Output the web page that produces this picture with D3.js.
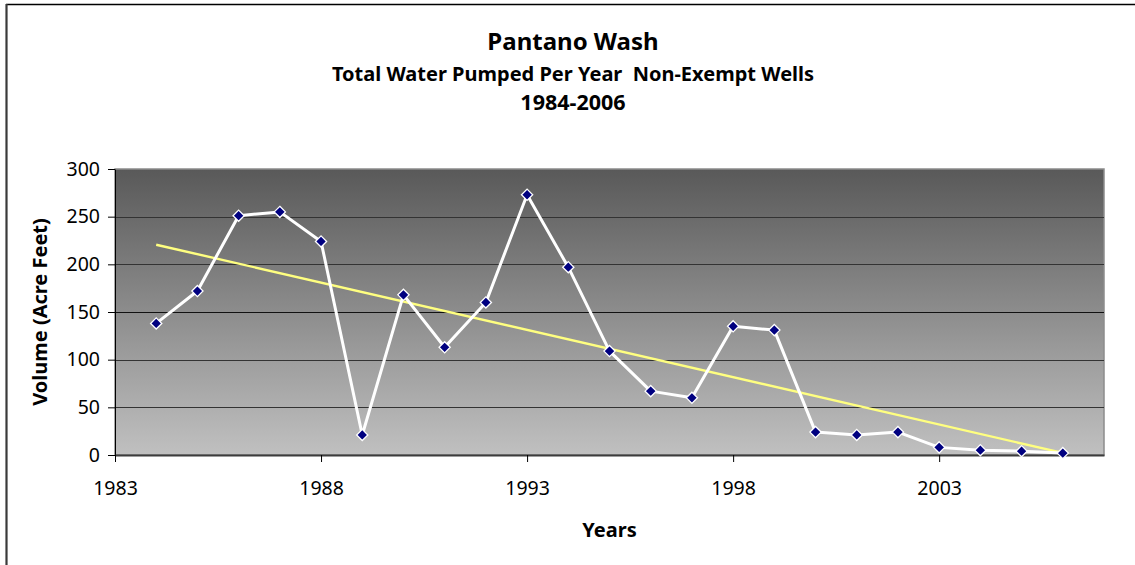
<!DOCTYPE html>
<html>
<head>
<meta charset="utf-8">
<script src="https://cdn.jsdelivr.net/npm/d3@7"></script>
<style>
  html, body { margin: 0; padding: 0; background: #ffffff; }
  svg { display: block; }
  text { font-family: "Noto Sans", "DejaVu Sans", sans-serif; fill: #000; white-space: pre; }
</style>
</head>
<body>
<svg id="chart" width="1135" height="565"></svg>
<script>
// Annual pumping totals, Pantano Wash non-exempt wells
const years = [1984, 1985, 1986, 1987, 1988, 1989, 1990, 1991, 1992, 1993, 1994, 1995,
               1996, 1997, 1998, 1999, 2000, 2001, 2002, 2003, 2004, 2005, 2006];
const volumes = [138, 172, 251, 255, 224, 21, 168, 113, 160, 273, 197, 109,
                 67, 60, 135, 131, 24, 21, 24, 8, 5, 4, 2];
const xTicks = [1983, 1988, 1993, 1998, 2003];
const yTicks = [0, 50, 100, 150, 200, 250, 300];
const titleLines = ["Pantano Wash", "Total Water Pumped Per Year  Non-Exempt Wells", "1984-2006"];
const xAxisTitle = "Years";
const yAxisTitle = "Volume (Acre Feet)";

const svg = d3.select("#chart");
const plot = { left: 115, right: 1104, top: 169, bottom: 455 };

const x = d3.scaleLinear().domain([1983, 2007]).range([plot.left, plot.right]);
const y = d3.scaleLinear().domain([0, 300]).range([plot.bottom, plot.top]);

// outer chart frame (top and left edges visible)
svg.append("line").attr("x1", 6).attr("x2", 1135).attr("y1", 4.5).attr("y2", 4.5)
  .attr("stroke", "#000").attr("stroke-width", 1.5);
svg.append("line").attr("x1", 6.5).attr("x2", 6.5).attr("y1", 4).attr("y2", 565)
  .attr("stroke", "#3a3a3a").attr("stroke-width", 2.2);

// plot background gradient
const defs = svg.append("defs");
const grad = defs.append("linearGradient").attr("id", "plotBg")
  .attr("x1", 0).attr("x2", 0).attr("y1", 0).attr("y2", 1);
grad.append("stop").attr("offset", "0%").attr("stop-color", "#595959");
grad.append("stop").attr("offset", "100%").attr("stop-color", "#c0c0c0");

svg.append("rect")
  .attr("x", plot.left).attr("y", plot.top)
  .attr("width", plot.right - plot.left).attr("height", plot.bottom - plot.top)
  .attr("fill", "url(#plotBg)")
  .attr("stroke", "#8c8c8c").attr("stroke-width", 1.5);

// horizontal gridlines
svg.append("g").selectAll("line")
  .data(yTicks.filter(d => d > 0 && d < 300))
  .join("line")
  .attr("x1", plot.left).attr("x2", plot.right)
  .attr("y1", d => Math.round(y(d)) + 0.5).attr("y2", d => Math.round(y(d)) + 0.5)
  .attr("stroke", d => d === 150 ? "#111" : "#333").attr("stroke-width", 1);

// y axis
const yAxis = svg.append("g")
  .attr("transform", `translate(${plot.left},0)`)
  .call(d3.axisLeft(y).tickValues(yTicks).tickSize(7).tickSizeOuter(0)
    .tickPadding(8).tickFormat(d3.format("d")));
yAxis.select(".domain").attr("stroke", "#000");
yAxis.selectAll(".tick line").attr("stroke", "#000");
yAxis.selectAll("text").style("font-size", "19.5px").attr("fill", "#000");

// x axis
const xAxis = svg.append("g")
  .attr("transform", `translate(0,${plot.bottom})`)
  .call(d3.axisBottom(x).tickValues(xTicks).tickSize(7).tickSizeOuter(0)
    .tickPadding(19).tickFormat(d3.format("d")));
xAxis.select(".domain").attr("stroke", "#3c3c3c").attr("stroke-width", 2.2);
xAxis.selectAll(".tick line").attr("stroke", "#000");
xAxis.selectAll("text").style("font-size", "19.5px").attr("fill", "#000");

// linear trend (least squares) across the data years
const n = years.length;
const mx = d3.mean(years), my = d3.mean(volumes);
const slope = d3.sum(years.map((t, i) => (t - mx) * (volumes[i] - my))) /
              d3.sum(years.map(t => (t - mx) * (t - mx)));
const icpt = my - slope * mx;
const trendYears = [years[0], years[n - 1]];
svg.append("path")
  .datum(trendYears)
  .attr("fill", "none")
  .attr("stroke", "#ffff80")
  .attr("stroke-width", 2.4)
  .attr("d", d3.line().x(d => x(d)).y(d => y(icpt + slope * d)));

// data line
const pts = years.map((t, i) => ({ t, v: volumes[i] }));
svg.append("path")
  .datum(pts)
  .attr("fill", "none")
  .attr("stroke", "#ffffff")
  .attr("stroke-width", 3)
  .attr("stroke-linejoin", "round")
  .attr("d", d3.line().x(d => x(d.t)).y(d => y(d.v)));

// diamond markers
svg.append("g").selectAll("path")
  .data(pts)
  .join("path")
  .attr("transform", d => `translate(${x(d.t)},${y(d.v)})`)
  .attr("d", d3.symbol().type(d3.symbolDiamond2).size(80))
  .attr("fill", "#000080")
  .attr("stroke", "#ffffff")
  .attr("stroke-width", 1.3);

// titles
const cx = 573;
svg.append("text").attr("x", cx).attr("y", 50).attr("text-anchor", "middle")
  .style("font-size", "24px").style("font-weight", "bold").text(titleLines[0]);
svg.append("text").attr("x", cx).attr("y", 81).attr("text-anchor", "middle")
  .style("font-size", "20px").style("font-weight", "bold").text(titleLines[1]);
svg.append("text").attr("x", cx).attr("y", 110).attr("text-anchor", "middle")
  .style("font-size", "21.5px").style("font-weight", "bold").text(titleLines[2]);

svg.append("text").attr("x", (plot.left + plot.right) / 2).attr("y", 537)
  .attr("text-anchor", "middle")
  .style("font-size", "20px").style("font-weight", "bold").text(xAxisTitle);

svg.append("text")
  .attr("transform", `translate(47,${(plot.top + plot.bottom) / 2}) rotate(-90)`)
  .attr("text-anchor", "middle")
  .style("font-size", "20px").style("font-weight", "bold").text(yAxisTitle);
</script>
</body>
</html>
